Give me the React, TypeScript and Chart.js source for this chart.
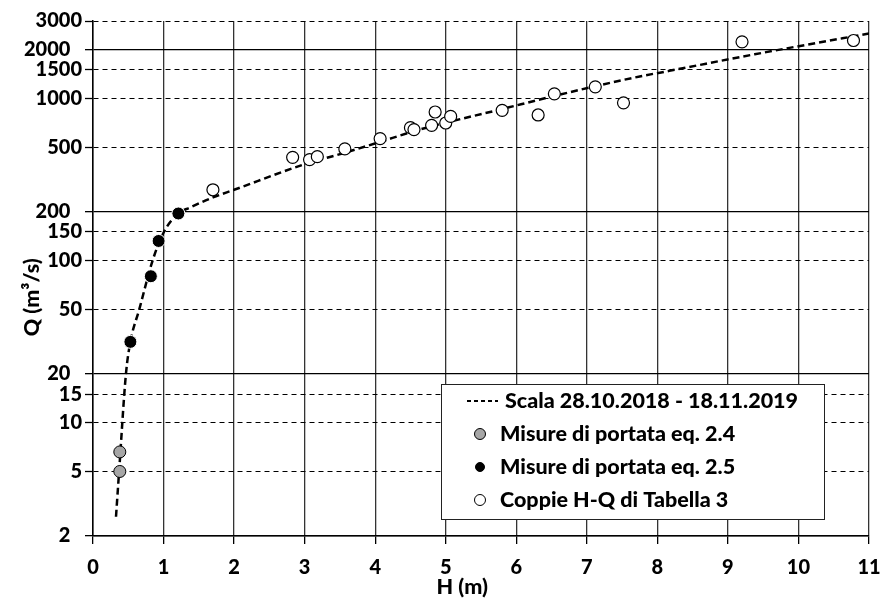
import React, { useEffect, useRef } from "react";
import { Chart, registerables } from "chart.js";

Chart.register(...registerables);

// Rating curve (Scala 28.10.2018 - 18.11.2019)
const H_CURVE = [0.326, 0.37, 0.467, 0.53, 0.656, 0.845, 1.005, 1.21, 1.374, 1.7, 2.0, 2.98, 3.57, 4.05, 4.63, 5.81, 6.54, 7.12, 7.75, 8.17, 9.38, 11.0];
const Q_CURVE = [2.63, 5.0, 20, 31.5, 50, 100, 150, 195, 212, 245, 273, 390, 462, 536, 642, 862, 1035, 1188, 1365, 1478, 1870, 2512];

// Misure di portata eq. 2.4
const H_EQ24 = [0.38, 0.38];
const Q_EQ24 = [6.6, 5.0];

// Misure di portata eq. 2.5
const H_EQ25 = [0.53, 0.82, 0.93, 1.21];
const Q_EQ25 = [31.5, 80, 132, 195];

// Coppie H-Q di Tabella 3
const H_TAB3 = [1.7, 2.83, 3.07, 3.18, 3.57, 4.07, 4.5, 4.55, 4.8, 4.85, 5.0, 5.07, 5.8, 6.31, 6.54, 7.12, 7.52, 9.2, 10.78];
const Q_TAB3 = [273, 433, 419, 437, 488, 565, 660, 642, 682, 824, 705, 774, 844, 790, 1066, 1178, 938, 2232, 2274];

const Y_TICKS = [2, 5, 10, 15, 20, 50, 100, 150, 200, 500, 1000, 1500, 2000, 3000];
const Y_MAJOR = [2, 20, 200, 2000];
const X_TICKS = [0, 1, 2, 3, 4, 5, 6, 7, 8, 9, 10, 11];

const LEGEND_LABELS = [
  "Scala 28.10.2018 - 18.11.2019",
  "Misure di portata eq. 2.4",
  "Misure di portata eq. 2.5",
  "Coppie H-Q di Tabella 3",
];

const X_TITLE = "H (m)";
const Y_TITLE = "Q (m³/s)";

const FONT_FAMILY = "Lato, 'Open Sans', sans-serif";
const FONT_SIZE = 20;
const TEXT_SIZE = 21.5;
const FONT_WEIGHT = 900;

const toPoints = (xs: number[], ys: number[]) => xs.map((x, i) => ({ x, y: ys[i] }));

const legendPlugin = {
  id: "boxLegend",
  afterDraw(chart: any) {
    const ctx = chart.ctx as CanvasRenderingContext2D;
    const bx = 441, by = 384, bw = 383, bh = 135;
    ctx.save();
    ctx.fillStyle = "#ffffff";
    ctx.fillRect(bx, by, bw, bh);
    ctx.strokeStyle = "#222";
    ctx.lineWidth = 1;
    ctx.strokeRect(bx + 0.5, by + 0.5, bw, bh);

    ctx.font = `${FONT_WEIGHT} ${TEXT_SIZE}px ${FONT_FAMILY}`;
    ctx.fillStyle = "#000";
    ctx.textBaseline = "middle";
    ctx.textAlign = "left";

    const rows = [401, 434, 467, 500];
    ctx.beginPath();
    ctx.setLineDash([4, 3]);
    ctx.lineWidth = 2;
    ctx.strokeStyle = "#000";
    ctx.moveTo(467, rows[0]);
    ctx.lineTo(498, rows[0]);
    ctx.stroke();
    ctx.setLineDash([]);
    ctx.fillText(LEGEND_LABELS[0], 505, rows[0]);

    const markers = [
      { fill: "#a6a6a6", r: 5.5 },
      { fill: "#000000", r: 4.5 },
      { fill: "#ffffff", r: 5.5 },
    ];
    markers.forEach((m, i) => {
      const y = rows[i + 1];
      ctx.beginPath();
      ctx.arc(480, y, m.r, 0, Math.PI * 2);
      ctx.fillStyle = m.fill;
      ctx.fill();
      ctx.lineWidth = 1;
      ctx.strokeStyle = "#000";
      ctx.stroke();
      ctx.fillStyle = "#000";
      ctx.fillText(LEGEND_LABELS[i + 1], 500, y);
    });
    ctx.restore();
  },
};

export default function App() {
  const canvasRef = useRef<HTMLCanvasElement | null>(null);

  useEffect(() => {
    if (!canvasRef.current) return;
    const tickFont = { family: FONT_FAMILY, size: FONT_SIZE, weight: FONT_WEIGHT as any };
    const titleFont = { family: FONT_FAMILY, size: TEXT_SIZE, weight: FONT_WEIGHT as any };
    const chart = new Chart(canvasRef.current, {
      type: "scatter",
      data: {
        datasets: [
          {
            type: "line",
            label: LEGEND_LABELS[0],
            data: toPoints(H_CURVE, Q_CURVE),
            borderColor: "#000",
            borderWidth: 2.5,
            borderDash: [7, 4],
            pointRadius: 0,
            fill: false,
            cubicInterpolationMode: "monotone",
            order: 10,
          } as any,
          {
            label: LEGEND_LABELS[1],
            data: toPoints(H_EQ24, Q_EQ24),
            backgroundColor: "#a6a6a6",
            borderColor: "#000",
            borderWidth: 1,
            pointRadius: 6,
            order: 1,
          },
          {
            label: LEGEND_LABELS[2],
            data: toPoints(H_EQ25, Q_EQ25),
            backgroundColor: "#000",
            borderColor: "#fff",
            borderWidth: 1,
            pointRadius: 6.5,
            order: 1,
          },
          {
            label: LEGEND_LABELS[3],
            data: toPoints(H_TAB3, Q_TAB3),
            backgroundColor: "#fff",
            borderColor: "#000",
            borderWidth: 1.2,
            pointRadius: 6,
            order: 1,
          },
        ],
      },
      options: {
        animation: false,
        responsive: false,
        layout: { padding: { top: 21, right: 17, left: 0, bottom: 0 } },
        plugins: {
          legend: { display: false },
          tooltip: { enabled: false },
        },
        scales: {
          x: {
            type: "linear",
            min: 0,
            max: 11,
            afterBuildTicks: (scale: any) => {
              scale.ticks = X_TICKS.map((v) => ({ value: v }));
            },
            afterFit: (scale: any) => {
              scale.height = 70;
              scale.paddingLeft = 0;
              scale.paddingRight = 0;
            },
            ticks: {
              font: tickFont,
              color: "#000",
              padding: 12,
              callback: (v: any) => String(v),
            },
            grid: {
              color: "#333",
              lineWidth: 1.3,
              tickLength: 8,
              tickColor: "#000",
              tickWidth: 1.3,
            },
            border: { display: true, color: "#000", width: 1.5 },
            title: {
              display: true,
              text: X_TITLE + "\u2007\u2007\u2007",
              color: "#000",
              font: titleFont,
              padding: { top: 0, bottom: 6 },
            },
          },
          y: {
            type: "logarithmic",
            min: 2,
            max: 3000,
            afterBuildTicks: (scale: any) => {
              scale.ticks = Y_TICKS.map((v) => ({ value: v, major: false }));
            },
            afterFit: (scale: any) => {
              scale.width = 93;
              scale.paddingTop = 0;
              scale.paddingBottom = 0;
            },
            ticks: {
              font: tickFont,
              color: "#000",
              padding: 3,
              autoSkip: false,
              callback: (v: any) => (Y_MAJOR.includes(Number(v)) ? String(v) + "\u2007" : String(v)),
            },
            grid: {
              color: "#000",
              lineWidth: (c: any) => (c.tick && Y_MAJOR.includes(c.tick.value) ? 1.3 : 1),
              tickLength: 8,
              tickColor: "#000",
              tickWidth: 1.3,
            },
            border: {
              display: true,
              color: "#000",
              width: 1.5,
              dash: (c: any) => (c.tick && !Y_MAJOR.includes(c.tick.value) ? [5, 4] : []),
            } as any,
            title: {
              display: true,
              text: Y_TITLE + "\u2007\u2007\u2007",
              color: "#000",
              font: titleFont,
              padding: { top: 19, bottom: 0 },
            },
          },
        },
      },
      plugins: [legendPlugin],
    });
    return () => chart.destroy();
  }, []);

  return (
    <div style={{ position: "fixed", left: 0, top: 0, width: 886, height: 606, background: "#fff" }}>
      <canvas ref={canvasRef} width={886} height={606} style={{ display: "block" }} />
    </div>
  );
}
